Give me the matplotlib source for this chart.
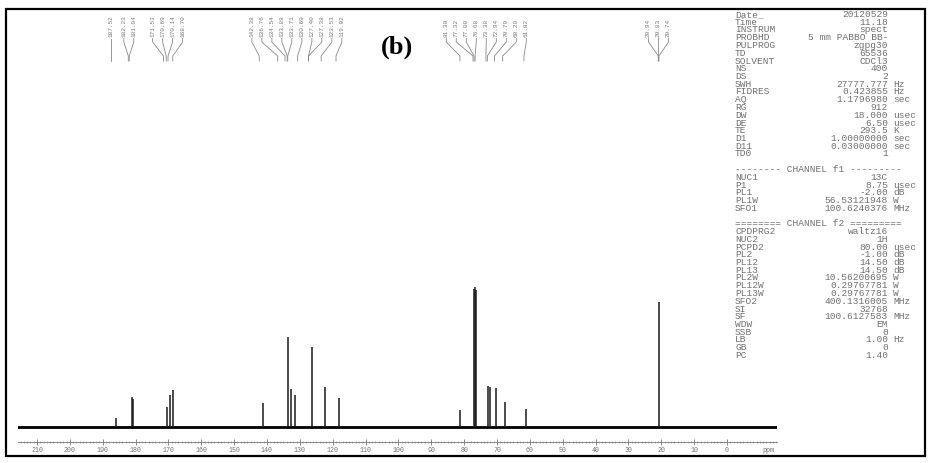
import matplotlib
matplotlib.use("Agg")
import matplotlib.pyplot as plt
import numpy as np
from matplotlib.patches import Rectangle
from matplotlib.ticker import FixedLocator, MultipleLocator

W, H = 930, 463

# ---------------- data ----------------
peak_ppm = [186.0, 181.2, 180.9, 170.4, 169.5, 168.6, 141.2, 133.5, 132.7, 131.6,
            126.3, 122.4, 118.0, 81.3, 77.0, 76.7, 76.4, 72.8, 72.3, 70.2, 67.7,
            61.1, 20.8]
peak_int = [9, 30, 28, 20, 32, 37, 24, 90, 38, 32,
            80, 40, 29, 17, 138, 140, 137, 41, 40, 39, 25,
            18, 125]

peak_labels = ["187.52", "182.23", "181.94", "171.53", "170.69", "170.14", "168.70",
               "142.38", "136.76", "134.54", "133.88", "133.71", "130.69", "127.40",
               "127.38", "123.53", "119.02",
               "81.30", "77.32", "77.00", "76.68", "73.38", "72.94", "70.79", "68.29",
               "61.82",
               "20.94", "20.83", "20.74"]

tick_values = list(range(0, 211, 10))
tick_labels = [str(v) for v in tick_values]

param_names = ["Date_", "Time", "INSTRUM", "PROBHD", "PULPROG", "TD", "SOLVENT", "NS",
               "DS", "SWH", "FIDRES", "AQ", "RG", "DW", "DE", "TE", "D1", "D11", "TD0",
               "", "", "NUC1", "P1", "PL1", "PL1W", "SFO1", "", "",
               "CPDPRG2", "NUC2", "PCPD2", "PL2", "PL12", "PL13", "PL2W", "PL12W",
               "PL13W", "SFO2", "SI", "SF", "WDW", "SSB", "LB", "GB", "PC"]
param_values = ["20120529", "11.18", "spect", "5 mm PABBO BB-", "zgpg30", "65536",
                "CDCl3", "400", "2", "27777.777", "0.423855", "1.1796980", "912",
                "18.000", "6.50", "293.5", "1.00000000", "0.03000000", "1",
                "", "", "13C", "8.75", "-2.00", "56.53121948", "100.6240376", "", "",
                "waltz16", "1H", "80.00", "-1.00", "14.50", "14.50", "10.56200695",
                "0.29767781", "0.29767781", "400.1316005", "32768", "100.6127583",
                "EM", "0", "1.00", "0", "1.40"]
param_units = ["", "", "", "", "", "", "", "", "", "Hz", "Hz", "sec", "", "usec",
               "usec", "K", "sec", "sec", "", "", "", "", "usec", "dB", "W", "MHz",
               "", "", "", "", "usec", "dB", "dB", "dB", "W", "W", "W", "MHz", "",
               "MHz", "", "", "Hz", "", ""]
channel_rows = {20: "-------- CHANNEL f1 ---------", 27: "======== CHANNEL f2 ========="}

TXT = "#707070"

# ---------------- figure ----------------
fig = plt.figure(figsize=(W / 100, H / 100), dpi=100)
fig.patch.set_facecolor("white")

# spectrum axes (pixel geometry of the reference)
x0, x1 = 18, 777
ybot, ytop = 442, 60
ax = fig.add_axes([x0 / W, (H - ybot) / H, (x1 - x0) / W, (ybot - ytop) / H])
ax.set_xlim(215.8, -15.2)
ax.set_ylim(-15, ybot - ytop - 15)
ax.axhline(0, color="black", lw=2.0, zorder=2)
ax.vlines(peak_ppm, 0, peak_int, colors="#1a1a1a", lw=1.1, zorder=3)

for s in ["top", "left", "right"]:
    ax.spines[s].set_visible(False)
ax.spines["bottom"].set_color("#777777")
ax.spines["bottom"].set_linewidth(0.6)
ax.set_yticks([])
ax.xaxis.set_major_locator(FixedLocator(tick_values))
ax.set_xticklabels(tick_labels)
ax.xaxis.set_minor_locator(MultipleLocator(1))
ax.tick_params(axis="x", which="major", direction="inout", length=4, width=0.6,
               color="#777777", pad=1.5, labelsize=4.8, labelcolor=TXT)
ax.tick_params(axis="x", which="minor", direction="inout", length=2, width=0.4,
               color="#888888")
for lab in ax.get_xticklabels():
    lab.set_family("Liberation Mono")
ax.patch.set_alpha(0)

# overlay in image pixel coordinates
ov = fig.add_axes([0, 0, 1, 1])
ov.set_xlim(0, W)
ov.set_ylim(H, 0)
ov.axis("off")
ov.patch.set_alpha(0)

# border
ov.add_patch(Rectangle((6, 9), 919, 447, fill=False, lw=1.6, ec="black"))

ov.text(768, 450, "ppm", ha="center", va="center", fontsize=4.8,
        family="Liberation Mono", color=TXT)

# peak labels with leaders
fig.canvas.draw()
lab_ppm = np.array([float(s) for s in peak_labels])
tx = np.array([ax.transData.transform((p, 0))[0] for p in lab_ppm])


def spread(xs, gap):
    order = np.argsort(xs)
    clusters = [[xs[i]] for i in order]
    changed = True
    while changed:
        changed = False
        for j in range(len(clusters) - 1):
            a, b = clusters[j], clusters[j + 1]
            ra = np.mean(a) + (len(a) - 1) / 2 * gap
            lb = np.mean(b) - (len(b) - 1) / 2 * gap
            if lb - ra < gap:
                clusters[j] = a + b
                del clusters[j + 1]
                changed = True
                break
    out = []
    for c in clusters:
        m, n = np.mean(c), len(c)
        out += [m + (k - (n - 1) / 2) * gap for k in range(n)]
    res = np.empty(len(xs))
    res[order] = out
    return res


lx = spread(tx, 10.0)
for s, l, t in zip(peak_labels, lx, tx):
    ov.text(l, 37, s, rotation=90, ha="center", va="bottom", fontsize=4.4,
            family="Liberation Mono", color="#7a7a7a")
    ov.plot([l, l, t, t], [38.5, 42, 56, 61], color="#888888", lw=0.6)

ov.text(397, 47, "(b)", ha="center", va="center", fontsize=19, fontweight="bold",
        family="Liberation Serif", color="black")

# acquisition parameters
y0, dy = 14.5, 7.75
for i, (n, v, u) in enumerate(zip(param_names, param_values, param_units)):
    y = y0 + i * dy
    if i in channel_rows:
        ov.text(735, y, channel_rows[i], ha="left", va="center", fontsize=6.8,
                family="Liberation Mono", color=TXT)
        continue
    if n:
        ov.text(735, y, n, ha="left", va="center", fontsize=6.8,
                family="Liberation Mono", color=TXT)
    if v:
        ov.text(888, y, v, ha="right", va="center", fontsize=6.8,
                family="Liberation Mono", color=TXT)
    if u:
        ov.text(893, y, u, ha="left", va="center", fontsize=6.8,
                family="Liberation Mono", color=TXT)

fig.savefig("out.png", dpi=100, facecolor="white")
